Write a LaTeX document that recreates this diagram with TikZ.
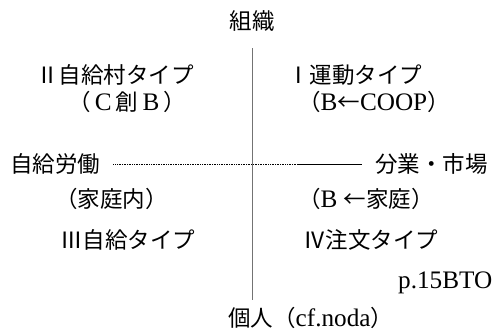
\documentclass[tikz,border=0pt]{standalone}
\usepackage{fontspec}
\setmainfont{Liberation Serif}[Scale=1.12]
\newfontfamily\cjk{Noto Sans CJK JP}
\begin{document}
\begin{tikzpicture}[x=1pt,y=-1pt,
  lbl/.style={inner sep=0pt,anchor=west,font=\fontsize{22.5}{26}\selectfont},
  axisv/.style={draw=black!55,line width=1.8pt},
  axish/.style={draw=black,line width=0.9pt},
  axisdot/.style={draw=black,line width=0.8pt,dash pattern=on 0.8pt off 0.9pt}]
\useasboundingbox (0,0) rectangle (500,335);
\node[lbl,anchor=center] (org) at (252,21) {\cjk 組織};
\node[lbl] (q2) at (36,75) {\cjk Ⅱ自給村タイプ};
\node[lbl] (q2s) at (68,102) {{\cjk （}\,C\,{\cjk 創}\,B\,{\cjk ）}};
\node[lbl] (q1) at (287,75) {\cjk Ⅰ運動タイプ};
\node[lbl] (q1s) at (298,102) {{\cjk （}B{\cjk ←}COOP{\cjk ）}};
\node[lbl] (self) at (10,164) {\cjk 自給労働};
\node[lbl] (mkt) at (375,164) {\cjk 分業・市場};
\node[lbl] (home) at (55,199) {\cjk （家庭内）};
\node[lbl] (homeb) at (298,199) {{\cjk （}B\ {\cjk ←家庭）}};
\node[lbl] (q3) at (60,240) {\cjk Ⅲ自給タイプ};
\node[lbl] (q4) at (303,240) {\cjk Ⅳ注文タイプ};
\node[lbl] (page) at (398,283) {p.15BTO};
\node[lbl] (ind) at (228,318) {{\cjk 個人（}cf.noda{\cjk ）}};
\coordinate (vtop) at (252.5,48);
\coordinate (vbot) at (252.5,300);
\coordinate (mid) at (298,164);
\draw[axisv] (vtop) -- (vbot);
\draw[axisdot] ([xshift=13pt]self.east |- mid) -- (mid);
\draw[axish] (mid) -- ([xshift=-13pt]mkt.west |- mid);
\end{tikzpicture}
\end{document}
